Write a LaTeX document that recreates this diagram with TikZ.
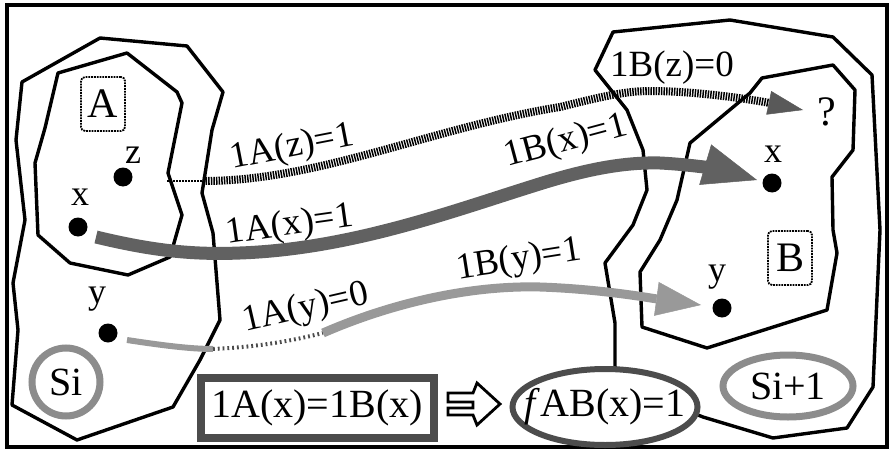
\documentclass[tikz,border=0pt]{standalone}
\usepackage{fontspec}
\setmainfont{Liberation Serif}
\usetikzlibrary{arrows.meta,shapes.geometric}
\definecolor{chkdark}{gray}{0.38}
\definecolor{chklight}{gray}{0.60}
\definecolor{ringgray}{gray}{0.55}
\definecolor{frmgray}{gray}{0.30}
\definecolor{hatch}{gray}{0.35}
\begin{document}
\begin{tikzpicture}[x=1pt,y=-1pt,
  big/.style={font=\fontsize{40}{44}\selectfont},
  lbl/.style={font=\fontsize{37}{42}\selectfont, inner sep=0},
  var/.style={font=\fontsize{36}{40}\selectfont, inner sep=0},
  dot/.style={circle, fill=black, inner sep=0, minimum size=19pt},
  region/.style={line width=3.4pt, line join=round},
  namebox/.style={draw, densely dotted, line width=1.8pt, rounded corners=4pt,
    minimum width=44pt, minimum height=54pt, inner sep=0, font=\fontsize{42}{46}\selectfont},
  hatchline/.style={line width=8pt, dash pattern=on 1.5pt off 1.1pt},
  zhead/.style={-{Triangle[length=35pt,width=24pt,line width=0.5pt,fill=hatch,color=hatch]}},
  xhead/.style={-{Triangle[length=54pt,width=42pt,line width=0.5pt]}},
  yhead/.style={-{Triangle[length=45pt,width=34pt,line width=0.5pt]}}]
\useasboundingbox (0,0) rectangle (891,452);
% frame
\draw[line width=3.5pt] (7,5) rectangle (887,447);
% region Si
\draw[region] (22,82) -- (100,38) -- (187,46) -- (223,92) -- (212,130) -- (202,193) -- (213,233)
  -- (220,320) -- (200,360) -- (173,407) -- (77,440) -- (12,405) -- (18,330) -- (13,283)
  -- (25,220) -- (16,140) -- cycle;
% region A
\draw[region] (58,73) -- (127,53) -- (177,92) -- (182,103) -- (168,173) -- (182,215) -- (170,257)
  -- (128,275) -- (70,263) -- (38,235) -- (35,163) -- (45,128) -- cycle;
% region Si+1
\draw[region] (595,70) -- (613,32) -- (730,20) -- (833,37) -- (872,75) -- (880,230) -- (873,387)
  -- (847,428) -- (773,438) -- (703,417) -- (640,392) -- (615,367) -- (615,323) -- (605,263)
  -- (633,225) -- (647,190) -- (643,150) -- (627,110) -- cycle;
% region B
\draw[region] (750,93) -- (762,78) -- (833,65) -- (855,90) -- (853,150) -- (832,177) -- (833,230)
  -- (837,253) -- (827,310) -- (707,348) -- (642,327) -- (640,272) -- (660,240) -- (677,200)
  -- (690,143) -- cycle;

% points
\node[dot] (az) at (123,177) {};
\node[dot] (ax) at (78,227) {};
\node[dot] (ay) at (108,333) {};
\node[dot] (bx) at (772,183) {};
\node[dot] (by) at (722,308) {};
\node[var] (laz) at (133,155) {z};
\node[var] (lax) at (80,197) {x};
\node[var] (lay) at (97,299) {y};
\node[var] (lbx) at (773,154) {x};
\node[var] (lby) at (717,277) {y};
\node[font=\fontsize{42}{46}\selectfont, inner sep=0] (q) at (827,112) {?};

% name boxes
\node[namebox] (A) at (103,104) {A};
\node[namebox] (B) at (790,258) {B};

% connector z
\coordinate (z0) at (167,181);
\coordinate (z1) at (203,181);
\coordinate (zt) at (803,110);
\draw[line width=2.5pt, dash pattern=on 1.5pt off 1.5pt] (z0) -- (z1);
\draw[hatchline, zhead] (z1) .. controls (320,181) and (430,128) .. (560,107)
  .. controls (600,97) and (625,91) .. (650,91)
  .. controls (700,91) and (760,101) .. (zt);

% connector x
\coordinate (x0) at (96,237);
\coordinate (xt) at (757,180);
\draw[chkdark, line width=13pt, xhead] (x0) .. controls (150,250) and (190,255) .. (240,253)
  .. controls (350,249) and (450,212) .. (533,186)
  .. controls (580,171) and (620,162) .. (660,163)
  .. controls (700,165) and (730,172) .. (xt);

% connector y
\coordinate (y0) at (127,340);
\coordinate (y1) at (213,349);
\coordinate (y2) at (323,333);
\coordinate (yt) at (701,305);
\draw[chklight, line width=6pt] (y0) .. controls (160,345) and (190,349) .. (y1);
\draw[black!70, line width=4pt, dash pattern=on 1.8pt off 3pt] (y1) .. controls (260,347) and (295,340) .. (y2);
\draw[chklight, line width=9pt, yhead] (y2) .. controls (380,308) and (460,285) .. (540,287)
  .. controls (600,289) and (650,298) .. (yt);

% labels
\node[lbl, rotate=11] (tAz) at (292,148) {1A(z)=1};
\node[lbl] (tBz) at (672,68) {1B(z)=0};
\node[lbl, rotate=15] (tBx) at (566,142) {1B(x)=1};
\node[lbl, rotate=8] (tAx) at (290,226) {1A(x)=1};
\node[lbl, rotate=9] (tBy) at (519,261) {1B(y)=1};
\node[lbl, rotate=13] (tAy) at (306,309) {1A(y)=0};

% states
\node[circle, draw=ringgray, line width=7pt, minimum size=68pt, inner sep=0, big] (si) at (66,382) {Si};
\node[ellipse, draw=ringgray, line width=7pt, minimum width=130pt, minimum height=62pt, inner sep=0, big] (si1) at (788,386) {\makebox[0pt]{Si+1}};

% bottom formula
\node[draw=frmgray, line width=8pt, minimum width=233pt, minimum height=60pt, big] (eq) at (317,408) {1A(x)=1B(x)};
\node[ellipse, draw=frmgray, fill=white, line width=6pt, minimum width=185pt, minimum height=76pt, inner sep=0, big] (fab) at (605,407) {\makebox[0pt]{\textit{f}AB(x)=1}};
\draw[line width=2.8pt, line join=miter] (473,402) -- (448,402) -- (448,393) -- (473,393) -- (477,383)
  -- (500,404) -- (477,425) -- (473,415) -- (448,415) -- (448,408) -- (473,408) -- cycle;
\end{tikzpicture}
\end{document}
